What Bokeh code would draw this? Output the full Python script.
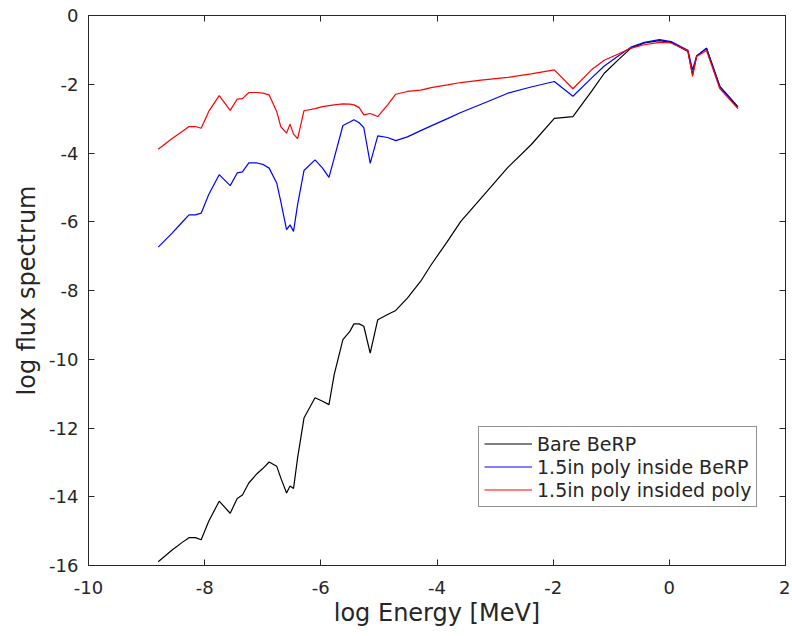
from bokeh.plotting import figure
from bokeh.models import (Range1d, FixedTicker, LinearAxis, Legend, LegendItem,
                          PrintfTickFormatter, CustomLabelingPolicy)
from bokeh.embed import file_html
from bokeh.resources import INLINE

log_energy = [-8.80, -8.56, -8.38, -8.27, -8.16, -8.06, -7.93, -7.75, -7.56, -7.44,
              -7.35, -7.24, -7.10, -7.00, -6.89, -6.76, -6.69, -6.59, -6.53, -6.47,
              -6.40, -6.29, -6.10, -5.97, -5.86, -5.77, -5.62, -5.50, -5.43, -5.34,
              -5.26, -5.15, -5.02, -4.85, -4.71, -4.51, -4.28, -4.10, -3.82, -3.59,
              -3.24, -2.78, -2.38, -1.98, -1.66, -1.34, -1.12, -0.88, -0.66, -0.43,
              -0.17, 0.03, 0.32, 0.40, 0.47, 0.64, 0.87, 1.18]

bare_berp = [-15.89, -15.55, -15.32, -15.19, -15.19, -15.25, -14.71, -14.13, -14.48, -14.05,
             -13.95, -13.60, -13.33, -13.18, -12.99, -13.11, -13.45, -13.89, -13.69, -13.76,
             -12.87, -11.71, -11.12, -11.22, -11.32, -10.45, -9.43, -9.19, -8.97, -8.97,
             -9.04, -9.82, -8.85, -8.70, -8.58, -8.22, -7.73, -7.25, -6.57, -5.99,
             -5.31, -4.42, -3.76, -2.99, -2.94, -2.21, -1.68, -1.29, -0.95, -0.80,
             -0.73, -0.78, -1.05, -1.72, -1.19, -0.95, -2.06, -2.65]

poly_inside_berp = [-6.74, -6.33, -6.00, -5.80, -5.80, -5.75, -5.21, -4.63, -4.95, -4.58,
                    -4.55, -4.29, -4.29, -4.33, -4.44, -4.87, -5.41, -6.23, -6.09, -6.28,
                    -5.50, -4.51, -4.20, -4.44, -4.71, -4.15, -3.20, -3.10, -3.03, -3.12,
                    -3.26, -4.30, -3.50, -3.55, -3.64, -3.53, -3.35, -3.21, -3.00, -2.82,
                    -2.58, -2.26, -2.08, -1.92, -2.35, -1.82, -1.47, -1.18, -0.92, -0.78,
                    -0.70, -0.76, -1.01, -1.58, -1.17, -0.95, -2.08, -2.67]

poly_insided_poly = [-3.89, -3.58, -3.37, -3.23, -3.23, -3.28, -2.79, -2.33, -2.76, -2.43,
                     -2.42, -2.24, -2.24, -2.26, -2.31, -2.79, -3.23, -3.42, -3.16, -3.45,
                     -3.58, -2.77, -2.71, -2.65, -2.62, -2.60, -2.57, -2.58, -2.60, -2.68,
                     -2.89, -2.85, -2.94, -2.60, -2.29, -2.21, -2.17, -2.10, -2.02, -1.95,
                     -1.88, -1.80, -1.70, -1.58, -2.13, -1.58, -1.30, -1.12, -0.95, -0.85,
                     -0.78, -0.80, -1.03, -1.77, -1.19, -1.02, -2.13, -2.71]

series_names = ["Bare BeRP", "1.5in poly inside BeRP", "1.5in poly insided poly"]
series_colors = ["#000000", "#0000ff", "#ff0000"]
x_ticks = [-10, -8, -6, -4, -2, 0, 2]
y_ticks = [-16, -14, -12, -10, -8, -6, -4, -2, 0]

FONT = "DejaVu Sans"
AX = "#262626"

p = figure(width=790, height=634, output_backend="svg", toolbar_location=None,
           x_range=Range1d(-10, 2), y_range=Range1d(-16, 0),
           min_border_left=88, min_border_right=5, min_border_top=15, min_border_bottom=69)
p.background_fill_color = "white"
p.border_fill_color = "white"
p.xgrid.visible = False
p.ygrid.visible = False
p.outline_line_color = AX
p.outline_line_width = 1

hide_all = CustomLabelingPolicy(code="""
const arr = [...indices]
for (const i of arr) indices.unset(i)
return indices
""")

def style_axis(ax, ticks, show_labels=True):
    ax.ticker = FixedTicker(ticks=ticks)
    ax.formatter = PrintfTickFormatter(format="%d")
    ax.axis_line_color = AX
    ax.major_tick_line_color = AX
    ax.major_tick_in = 6
    ax.major_tick_out = 0
    ax.minor_tick_line_color = None
    ax.major_label_text_color = AX
    ax.major_label_text_font = FONT
    ax.major_label_text_font_size = "18px"
    ax.axis_label_text_font = FONT
    ax.axis_label_text_color = AX
    ax.axis_label_text_font_style = "normal"
    ax.axis_label_text_font_size = "24px"
    if not show_labels:
        ax.major_label_policy = hide_all
        ax.major_label_standoff = 0
        ax.major_label_text_font_size = "1px"

style_axis(p.xaxis[0], x_ticks)
style_axis(p.yaxis[0], y_ticks)
p.xaxis[0].axis_label = "log Energy [MeV]"
p.yaxis[0].axis_label = "log flux spectrum"
p.xaxis[0].major_label_standoff = 15
p.yaxis[0].major_label_standoff = 10
p.xaxis[0].axis_label_standoff = 2
p.yaxis[0].axis_label_standoff = 5

top_ax = LinearAxis()
style_axis(top_ax, x_ticks, show_labels=False)
p.add_layout(top_ax, "above")
right_ax = LinearAxis()
style_axis(right_ax, y_ticks, show_labels=False)
p.add_layout(right_ax, "right")

renderers = []
for ys, c in zip([bare_berp, poly_inside_berp, poly_insided_poly], series_colors):
    r = p.line(log_energy, ys, line_color=c, line_width=1.2)
    renderers.append(r)

legend = Legend(items=[LegendItem(label=n, renderers=[r]) for n, r in zip(series_names, renderers)],
                location=(390, 58))
legend.border_line_color = AX
legend.border_line_width = 1
legend.background_fill_color = "white"
legend.background_fill_alpha = 1
legend.label_text_font = FONT
legend.label_text_font_size = "19px"
legend.label_text_color = AX
legend.glyph_width = 48
legend.glyph_height = 23
legend.label_height = 23
legend.label_standoff = 5
legend.spacing = 0
legend.padding = 5
legend.margin = 0
p.add_layout(legend)

open("out.html", "w").write(file_html(p, INLINE))
